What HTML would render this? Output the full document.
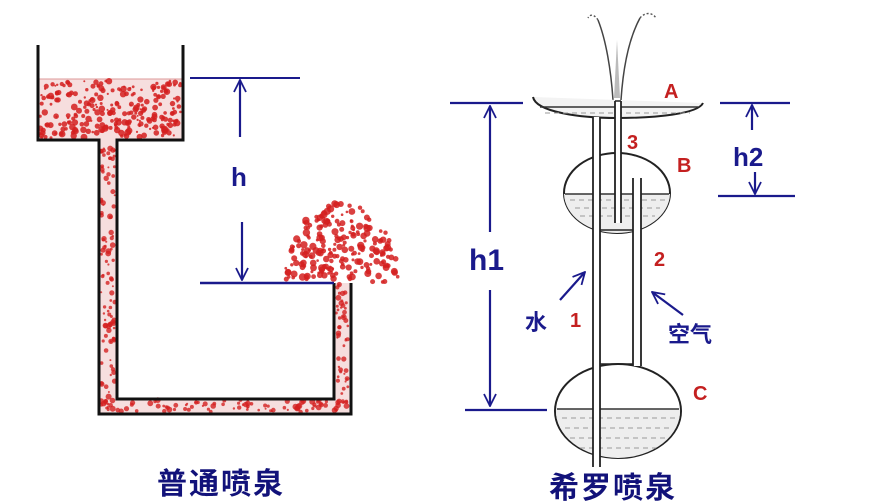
<!DOCTYPE html>
<html><head><meta charset="utf-8"><style>
html,body{margin:0;padding:0;background:#fff;width:880px;height:502px;overflow:hidden}
svg{display:block}
.t{font-family:"Liberation Sans","Noto Sans CJK SC",sans-serif;font-weight:bold}
</style></head><body>
<svg id="s" width="880" height="502" viewBox="0 0 880 502" xmlns="http://www.w3.org/2000/svg">
<defs>
<marker id="ah" viewBox="0 0 14 14" refX="13" refY="7" markerWidth="14" markerHeight="14" orient="auto-start-reverse" markerUnits="userSpaceOnUse">
<path d="M1,1 L13,7 L1,13" fill="none" stroke="#1a1a8c" stroke-width="1.8"/></marker>
</defs>
<!-- LEFT: ordinary fountain -->
<rect x="38" y="79" width="145" height="61" fill="#f6dede"/>
<rect x="99" y="140" width="18" height="272" fill="#f6dede"/>
<rect x="99" y="398" width="251" height="15" fill="#f6dede"/>
<rect x="334" y="283" width="16" height="130" fill="#f6dede"/>
<line x1="38" y1="79" x2="183" y2="79" stroke="#d99" stroke-width="1"/>
<g id="dots" fill="#d42020"></g>
<path d="M38,45 V140 H99 V414 H351 V283" fill="none" stroke="#111" stroke-width="3"/>
<path d="M183,45 V140 H117 V399 H334 V283" fill="none" stroke="#111" stroke-width="3"/>
<line x1="190" y1="78" x2="300" y2="78" stroke="#1a1a8c" stroke-width="2"/>
<line x1="200" y1="283" x2="334" y2="283" stroke="#1a1a8c" stroke-width="2.5"/>
<line x1="240" y1="80" x2="240" y2="137" stroke="#1a1a8c" stroke-width="2.2" marker-start="url(#ah)"/>
<line x1="242" y1="222" x2="242" y2="280" stroke="#1a1a8c" stroke-width="2.2" marker-end="url(#ah)"/>
<text class="t" x="231" y="186" font-size="26" fill="#1a1a8c">h</text>
<text class="t" x="157" y="494" font-size="30" fill="#12127a" letter-spacing="2">普通喷泉</text>

<!-- RIGHT: Hero's fountain -->
<path d="M613,100 C611,70 606,40 598,20 M621,100 C623,70 628,40 640,18" fill="none" stroke="#444" stroke-width="1.5"/>
<path d="M614,98 L617,40 L620,98Z" fill="#bbb"/>
<path d="M598,20 C594,14 590,14 588,18 M640,18 C645,12 652,12 656,18" fill="none" stroke="#555" stroke-width="1.4" stroke-dasharray="2 2"/>
<path d="M533,97 C536,112 580,118 617,118 C655,118 698,114 703,103" fill="#f3f3f3" stroke="#222" stroke-width="2"/>
<line x1="540" y1="107" x2="698" y2="107" stroke="#333" stroke-width="1.5"/>
<ellipse cx="617" cy="193" rx="53" ry="40" fill="#fff" stroke="#222" stroke-width="2"/>
<path d="M564,194 H670 A53,40 0 0 1 617,233 A53,40 0 0 1 564,194Z" fill="#eee"/>
<line x1="565" y1="194" x2="669" y2="194" stroke="#333" stroke-width="1.5"/>
<ellipse cx="618" cy="411" rx="63" ry="47" fill="#fff" stroke="#222" stroke-width="2"/>
<path d="M556,409 H680 A63,47 0 0 1 618,458 A63,47 0 0 1 556,409Z" fill="#eee"/>
<line x1="557" y1="409" x2="679" y2="409" stroke="#333" stroke-width="1.5"/>
<g stroke="#999" stroke-width="1" stroke-dasharray="5 4">
<line x1="570" y1="200" x2="665" y2="200"/><line x1="575" y1="208" x2="660" y2="208"/><line x1="580" y1="216" x2="655" y2="216"/>
<line x1="562" y1="418" x2="675" y2="418"/><line x1="565" y1="428" x2="672" y2="428"/><line x1="570" y1="438" x2="666" y2="438"/><line x1="580" y1="448" x2="656" y2="448"/>
<line x1="545" y1="113" x2="690" y2="113"/>
</g>
<rect x="593" y="117" width="7" height="350" fill="#fff"/>
<line x1="593" y1="117" x2="593" y2="467" stroke="#222" stroke-width="1.8"/>
<line x1="600" y1="117" x2="600" y2="467" stroke="#222" stroke-width="1.8"/>
<rect x="615" y="101" width="6" height="122" fill="#fff"/>
<line x1="615" y1="101" x2="615" y2="223" stroke="#222" stroke-width="1.8"/>
<line x1="621" y1="101" x2="621" y2="223" stroke="#222" stroke-width="1.8"/>
<line x1="615" y1="101" x2="621" y2="101" stroke="#222" stroke-width="1.5"/>
<rect x="633" y="178" width="8" height="188" fill="#fff"/>
<line x1="633" y1="178" x2="633" y2="366" stroke="#222" stroke-width="1.8"/>
<line x1="641" y1="178" x2="641" y2="366" stroke="#222" stroke-width="1.8"/>
<line x1="600" y1="230" x2="633" y2="230" stroke="#222" stroke-width="1.5"/>
<line x1="600" y1="364" x2="633" y2="364" stroke="#222" stroke-width="1.5"/>
<g stroke="#1a1a8c" stroke-width="2.2">
<line x1="450" y1="103" x2="523" y2="103"/>
<line x1="465" y1="410" x2="547" y2="410"/>
<line x1="720" y1="103" x2="790" y2="103"/>
<line x1="718" y1="196" x2="795" y2="196"/>
<line x1="490" y1="106" x2="490" y2="232" marker-start="url(#ah)"/>
<line x1="490" y1="290" x2="490" y2="406" marker-end="url(#ah)"/>
<line x1="752" y1="105" x2="752" y2="130" marker-start="url(#ah)"/>
<line x1="755" y1="172" x2="755" y2="194" marker-end="url(#ah)"/>
<line x1="560" y1="300" x2="585" y2="272" marker-end="url(#ah)"/>
<line x1="683" y1="315" x2="652" y2="292" marker-end="url(#ah)"/>
</g>
<text class="t" x="469" y="270" font-size="30" fill="#1a1a8c">h1</text>
<text class="t" x="733" y="166" font-size="26" fill="#1a1a8c">h2</text>
<text class="t" x="525" y="330" font-size="22" fill="#1a1a8c">水</text>
<text class="t" x="668" y="342" font-size="22" fill="#1a1a8c">空气</text>
<g class="t" fill="#c42020" font-size="20" font-weight="normal">
<text x="664" y="98">A</text>
<text x="627" y="149">3</text>
<text x="677" y="172">B</text>
<text x="654" y="266">2</text>
<text x="570" y="327">1</text>
<text x="693" y="400">C</text>
</g>
<text class="t" x="549" y="498" font-size="30" fill="#12127a" letter-spacing="2">希罗喷泉</text>
</svg>
<script>
(function(){
var g=document.getElementById('dots'),ns='http://www.w3.org/2000/svg',seed=7;
function r(){seed=(seed*16807)%2147483647;return seed/2147483647;}
function add(x,y,rad,op){var c=document.createElementNS(ns,'circle');c.setAttribute('cx',x.toFixed(1));c.setAttribute('cy',y.toFixed(1));c.setAttribute('r',rad.toFixed(1));if(op)c.setAttribute('opacity',op);g.appendChild(c);}
var i;
for(i=0;i<260;i++)add(40+r()*141,81+r()*57,1+r()*2.4,0.85);
for(i=0;i<110;i++)add(101+r()*14,140+r()*272,1+r()*2,0.8);
for(i=0;i<90;i++)add(101+r()*247,400+r()*12,1+r()*2,0.8);
for(i=0;i<50;i++)add(336+r()*12,283+r()*128,1+r()*2,0.8);
for(i=0;i<220;i++){var a=r()*Math.PI,d=Math.sqrt(r());add(342+Math.cos(a)*58*d,282-Math.sin(a)*80*d,1.3+r()*2.4,0.85);}
})();
</script>
</body></html>
